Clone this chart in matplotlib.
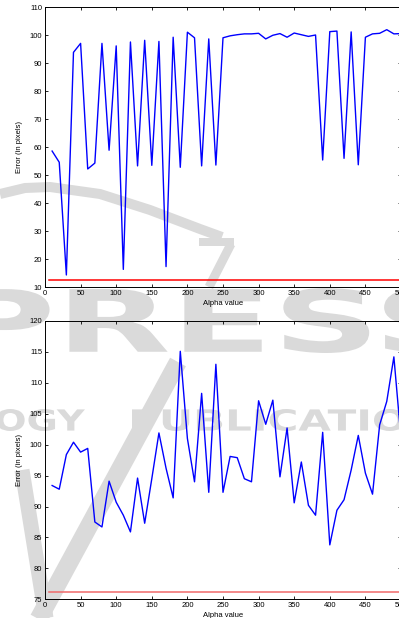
import numpy as np
import matplotlib
matplotlib.use("Agg")
import matplotlib.pyplot as plt
from matplotlib.textpath import TextPath
from matplotlib.font_manager import FontProperties
from matplotlib.patches import PathPatch
from matplotlib.lines import Line2D
from matplotlib.transforms import Affine2D

# ---- data -------------------------------------------------------------
alpha = np.arange(10, 501, 10)

error_top = [58.6, 54.6, 14.3, 93.9, 97.1, 52.2, 54.3, 97.1, 58.9, 96.2,
             16.3, 97.6, 53.3, 98.2, 53.5, 97.8, 17.3, 99.3, 52.8, 101.1,
             99.1, 53.3, 98.7, 53.6, 99.1, 99.8, 100.2, 100.5, 100.5, 100.7,
             98.7, 100.0, 100.6, 99.3, 100.8, 100.2, 99.6, 100.1, 55.4, 101.3,
             101.5, 56.0, 101.2, 53.7, 99.3, 100.5, 100.7, 102.0, 100.5, 100.6]
baseline_top = 12.4

error_bottom = [93.4, 92.8, 98.4, 100.4, 98.8, 99.4, 87.5, 86.7, 94.1, 90.7,
                88.6, 85.9, 94.6, 87.3, 94.5, 101.9, 96.2, 91.4, 115.1, 101.0,
                94.0, 108.3, 92.3, 113.0, 92.3, 98.1, 97.9, 94.5, 94.0, 107.1,
                103.3, 107.2, 94.8, 102.7, 90.6, 97.2, 90.2, 88.6, 102.0, 83.8,
                89.4, 91.1, 95.9, 101.5, 95.4, 92.0, 103.2, 107.0, 114.2, 101.0]
baseline_bottom = 76.1
baseline_x = [5, 505]

W, H = 399, 618
plt.rcParams['font.family'] = ['Liberation Sans', 'DejaVu Sans']

fig = plt.figure(figsize=(W / 100, H / 100), dpi=100, facecolor='white')

# ---- publisher watermark (drawn behind the axes) ----------------------
WM = '#dadada'


def px(x, y):
    return x / W, 1 - y / H


def wm_text(s, x0, x1, ytop, ybot, weight='bold'):
    tp = TextPath((0, 0), s, size=10,
                  prop=FontProperties(family='DejaVu Sans', weight=weight))
    bb = tp.get_extents()
    sx = (x1 - x0) / bb.width / W
    sy = (ybot - ytop) / bb.height / H
    tr = (Affine2D().translate(-bb.x0, -bb.y0).scale(sx, sy)
          .translate(x0 / W, 1 - ybot / H))
    fig.add_artist(PathPatch(tp, transform=tr + fig.transFigure,
                             fc=WM, ec='none', zorder=-5))


def wm_stroke(points, width_px):
    xs, ys = zip(*[px(x, y) for x, y in points])
    fig.add_artist(Line2D(xs, ys, transform=fig.transFigure, color=WM,
                          lw=width_px * 0.72, solid_capstyle='butt',
                          solid_joinstyle='round', zorder=-5))


wm_text("PRESS", -40, 470, 288, 353)
wm_text("TECHNOLOGY", -205, 85, 409, 431)
wm_text("PUBLICATIONS", 132, 470, 409, 431)
wm_stroke([(0, 194), (25, 188), (50, 187), (100, 194), (150, 210),
           (200, 229), (222, 237)], 10)
wm_stroke([(199, 242), (234, 242)], 8)
wm_stroke([(231, 244), (209, 287)], 9)
wm_stroke([(22, 470), (46, 618)], 15)
wm_stroke([(38, 620), (178, 362)], 18)

# ---- axes -------------------------------------------------------------
ax1 = fig.add_axes([45 / W, 1 - 287 / H, 356 / W, 279.7 / H])
ax2 = fig.add_axes([45 / W, 1 - 599.3 / H, 356 / W, 278.3 / H])

panels = [
    (ax1, error_top, baseline_top, (10, 110), np.arange(10, 111, 10), 'red'),
    (ax2, error_bottom, baseline_bottom, (75, 120), np.arange(75, 121, 5), '#f06a6a'),
]

for ax, err, base, ylim, yticks, red in panels:
    ax.set_facecolor('none')
    ax.plot(alpha, err, color='#0000ff', lw=1.0, zorder=3)
    ax.plot(baseline_x, [base, base], color=red, lw=1.1, zorder=2)
    ax.set_xlim(0, 500)
    ax.set_ylim(*ylim)
    ax.set_xticks(np.arange(0, 501, 50))
    ax.set_yticks(yticks)
    ax.tick_params(direction='in', length=2.5, width=0.6, labelsize=5.5,
                   pad=2, top=True, right=True, colors='black')
    for sp in ax.spines.values():
        sp.set_linewidth(0.7)
    ax.set_xlabel('Alpha value', fontsize=5.5, labelpad=2)
    ax.set_ylabel('Error (in pixels)', fontsize=5.5, labelpad=5)

fig.savefig('out.png', dpi=100, facecolor='white')
